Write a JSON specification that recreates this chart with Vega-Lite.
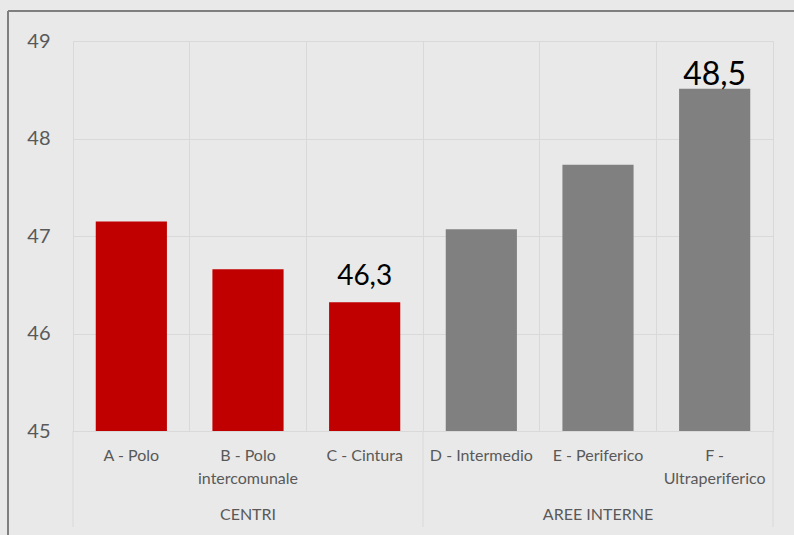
{
  "$schema": "https://vega.github.io/schema/vega-lite/v6.json",
  "width": 700,
  "height": 390,
  "autosize": {"type": "none"},
  "padding": {"left": 73, "top": 41, "right": 21, "bottom": 104},
  "background": "#e9e9e9",
  "config": {
    "font": "Lato",
    "view": {"stroke": "#d9d9d9", "strokeWidth": 1, "fill": "#e9e9e9"}
  },
  "data": {
    "values": [
      {"cat": "A - Polo", "group": "CENTRI", "value": 47.15},
      {"cat": "B - Polo intercomunale", "group": "CENTRI", "value": 46.66},
      {"cat": "C - Cintura", "group": "CENTRI", "value": 46.32, "label": "46,3"},
      {"cat": "D - Intermedio", "group": "AREE INTERNE", "value": 47.07},
      {"cat": "E - Periferico", "group": "AREE INTERNE", "value": 47.73},
      {"cat": "F - Ultraperiferico", "group": "AREE INTERNE", "value": 48.51, "label": "48,5"}
    ]
  },
  "encoding": {
    "x": {
      "field": "cat",
      "type": "nominal",
      "sort": null,
      "scale": {"paddingInner": 0, "paddingOuter": 0},
      "axis": {
        "title": null,
        "labelAngle": 0,
        "labelFont": "Lato",
        "labelFontSize": 16,
        "labelColor": "#595959",
        "labelPadding": 16,
        "labelBaseline": "top",
        "labelLineHeight": 23,
        "labelExpr": "datum.label == 'B - Polo intercomunale' ? ['B - Polo', 'intercomunale'] : datum.label == 'F - Ultraperiferico' ? ['F -', 'Ultraperiferico'] : datum.label",
        "ticks": false,
        "domain": true,
        "domainColor": "#d9d9d9",
        "grid": true,
        "gridColor": "#d9d9d9",
        "bandPosition": 0
      }
    }
  },
  "layer": [
    {
      "mark": {"type": "bar", "width": {"band": 0.61}},
      "encoding": {
        "y": {
          "field": "value",
          "type": "quantitative",
          "scale": {"domain": [45, 49], "zero": false, "nice": false},
          "axis": {
            "title": null,
            "values": [45, 46, 47, 48, 49],
            "format": "d",
            "labelFont": "Lato",
            "labelFontSize": 20,
            "labelColor": "#595959",
            "labelPadding": 23,
            "ticks": false,
            "domain": false,
            "gridColor": "#d9d9d9"
          }
        },
        "y2": {"datum": 45},
        "color": {
          "field": "group",
          "type": "nominal",
          "scale": {"domain": ["CENTRI", "AREE INTERNE"], "range": ["#c00000", "#808080"]},
          "legend": null
        }
      }
    },
    {
      "transform": [{"filter": "datum.cat == 'C - Cintura'"}],
      "mark": {"type": "text", "font": "Lato", "fontSize": 28, "color": "#000000", "baseline": "alphabetic", "dy": -17},
      "encoding": {
        "y": {"field": "value", "type": "quantitative"},
        "text": {"field": "label"}
      }
    },
    {
      "transform": [{"filter": "datum.cat == 'F - Ultraperiferico'"}],
      "mark": {"type": "text", "font": "Lato", "fontSize": 32, "color": "#000000", "baseline": "alphabetic", "dy": -4},
      "encoding": {
        "y": {"field": "value", "type": "quantitative"},
        "text": {"field": "label"}
      }
    },
    {
      "transform": [{"filter": "datum.cat == 'A - Polo' || datum.cat == 'D - Intermedio'"}],
      "mark": {"type": "rule", "color": "#d9d9d9", "strokeWidth": 1, "y2Offset": 96},
      "encoding": {
        "x": {"field": "cat", "type": "nominal", "sort": null, "bandPosition": 0},
        "y": {"datum": 45},
        "y2": {"datum": 45}
      }
    },
    {
      "transform": [{"filter": "datum.cat == 'F - Ultraperiferico'"}],
      "mark": {"type": "rule", "color": "#d9d9d9", "strokeWidth": 1, "y2Offset": 96},
      "encoding": {
        "x": {"field": "cat", "type": "nominal", "sort": null, "bandPosition": 1},
        "y": {"datum": 45},
        "y2": {"datum": 45}
      }
    },
    {
      "transform": [{"filter": "datum.cat == 'B - Polo intercomunale' || datum.cat == 'E - Periferico'"}],
      "mark": {"type": "text", "font": "Lato", "fontSize": 16, "color": "#595959", "baseline": "middle", "yOffset": 84},
      "encoding": {
        "y": {"datum": 45},
        "text": {"field": "group"}
      }
    },
    {
      "transform": [{"filter": "datum.cat == 'A - Polo'"}],
      "mark": {"type": "rule", "color": "#7f7f7f", "strokeWidth": 2, "xOffset": -65, "x2Offset": -65, "yOffset": -30, "y2Offset": 110},
      "encoding": {
        "x": {"field": "cat", "type": "nominal", "sort": null, "bandPosition": 0},
        "y": {"datum": 49},
        "y2": {"datum": 45}
      }
    },
    {
      "transform": [{"filter": "datum.cat == 'A - Polo'"}],
      "mark": {"type": "rule", "color": "#7f7f7f", "strokeWidth": 2, "xOffset": -65, "x2Offset": 30, "yOffset": -30, "y2Offset": -30},
      "encoding": {
        "x": {"datum": "A - Polo", "bandPosition": 0},
        "x2": {"datum": "F - Ultraperiferico", "bandPosition": 1},
        "y": {"datum": 49}
      }
    }
  ]
}
